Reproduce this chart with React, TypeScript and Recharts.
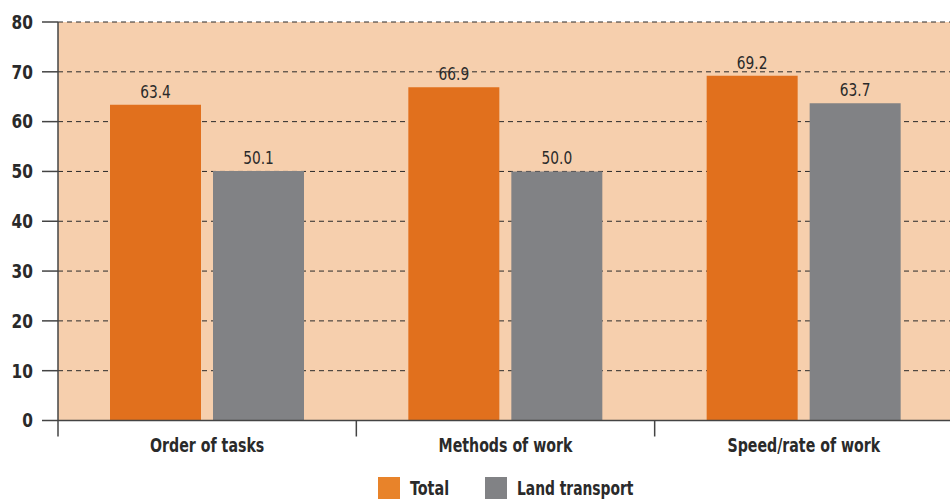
import React from "react";
import { BarChart, Bar, XAxis, YAxis, CartesianGrid, Legend, LabelList } from "recharts";

const categories = ["Order of tasks", "Methods of work", "Speed/rate of work"];
const totalValues = [63.4, 66.9, 69.2];
const landTransportValues = [50.1, 50.0, 63.7];
const yTicks = [0, 10, 20, 30, 40, 50, 60, 70, 80];
const seriesNames = ["Total", "Land transport"];

const data = categories.map((c, i) => ({
  name: c,
  total: totalValues[i],
  land: landTransportValues[i],
}));

const FONT = "'DejaVu Sans Condensed', 'Noto Sans', sans-serif";
const ORANGE = "#E1701D";
const LEGEND_ORANGE = "#E8832A";
const GRAY = "#818285";
const DARK = "#2a2a2a";
const AXIS = "#444";
const SX = 0.83;
const TICK = 16;
const CAT_MARGIN = 14;
const Y_MARGIN = 9;

const CategoryTick = (props: any) => {
  const { payload, index, visibleTicksCount } = props;
  const x = Number(props.x);
  const y = Number(props.y);
  const half = Number(payload.offset || 0);
  const baseY = y - CAT_MARGIN;
  const last = index === (visibleTicksCount ?? categories.length) - 1;
  return (
    <g>
      <line x1={x - half} x2={x - half} y1={baseY} y2={baseY + TICK} stroke={AXIS} strokeWidth={1.5} />
      {last && (
        <line x1={x + half} x2={x + half} y1={baseY} y2={baseY + TICK} stroke={AXIS} strokeWidth={1.5} />
      )}
      <text
        transform={`translate(${x},${y}) scale(${SX},1)`}
        textAnchor="middle"
        dy="0.9em"
        fontFamily={FONT}
        fontWeight={700}
        fontSize={19}
        fill={DARK}
      >
        {payload.value}
      </text>
    </g>
  );
};

const ValueTick = (props: any) => {
  const { payload } = props;
  const x = Number(props.x);
  const y = Number(props.y);
  return (
    <g>
      <line x1={x + Y_MARGIN} x2={x + Y_MARGIN + TICK} y1={y} y2={y} stroke={AXIS} strokeWidth={1.5} />
      <text
        transform={`translate(${x},${y}) scale(0.9,1)`}
        textAnchor="end"
        dy="0.36em"
        fontFamily={FONT}
        fontWeight={700}
        fontSize={19}
        fill={DARK}
      >
        {payload.value}
      </text>
    </g>
  );
};

const BarValueLabel = (props: any) => {
  const x = Number(props.x);
  const y = Number(props.y);
  const width = Number(props.width);
  return (
    <text
      transform={`translate(${x + width / 2},${y - 7}) scale(0.9,1)`}
      textAnchor="middle"
      fontFamily={FONT}
      fontSize={17}
      fill={DARK}
    >
      {Number(props.value).toFixed(1)}
    </text>
  );
};

const LegendContent = () => (
  <svg width={895} height={28} style={{ display: "block" }}>
    <g transform="translate(320,3)">
      <rect x={0} y={0} width={22} height={22} fill={LEGEND_ORANGE} />
      <text
        transform={`translate(32,18) scale(0.8,1)`}
        fontFamily={FONT}
        fontWeight={700}
        fontSize={20}
        fill={DARK}
      >
        {seriesNames[0]}
      </text>
      <rect x={107} y={0} width={22} height={22} fill={GRAY} />
      <text
        transform={`translate(139,18) scale(0.77,1)`}
        fontFamily={FONT}
        fontWeight={700}
        fontSize={20}
        fill={DARK}
      >
        {seriesNames[1]}
      </text>
    </g>
  </svg>
);

export default function App() {
  return (
    <div style={{ position: "absolute", left: 0, top: 0, width: 950, height: 502, overflow: "hidden", background: "#fff" }}>
      <BarChart
        width={960}
        height={502}
        data={data}
        margin={{ top: 22, right: 7, bottom: 0, left: 0 }}
        barGap={12}
        barSize={91}
      >
        <CartesianGrid
          vertical={false}
          fill="#F6CFAD"
          fillOpacity={1}
          stroke={DARK}
          strokeDasharray="5 4"
        />
        <XAxis
          dataKey="name"
          height={53.5}
          tickSize={0}
          tickMargin={CAT_MARGIN}
          axisLine={{ stroke: AXIS, strokeWidth: 1.5 }}
          tickLine={false}
          tick={<CategoryTick />}
          interval={0}
        />
        <YAxis
          width={58}
          domain={[0, 80]}
          ticks={yTicks}
          tickSize={TICK}
          tickMargin={Y_MARGIN}
          axisLine={{ stroke: AXIS, strokeWidth: 1.5 }}
          tickLine={false}
          tick={<ValueTick />}
        />
        <Legend verticalAlign="bottom" wrapperStyle={{ left: 58, width: 895 }} content={() => <LegendContent />} />
        <Bar dataKey="total" name={seriesNames[0]} fill={ORANGE} isAnimationActive={false}>
          <LabelList dataKey="total" content={<BarValueLabel />} />
        </Bar>
        <Bar dataKey="land" name={seriesNames[1]} fill={GRAY} isAnimationActive={false}>
          <LabelList dataKey="land" content={<BarValueLabel />} />
        </Bar>
      </BarChart>
    </div>
  );
}
